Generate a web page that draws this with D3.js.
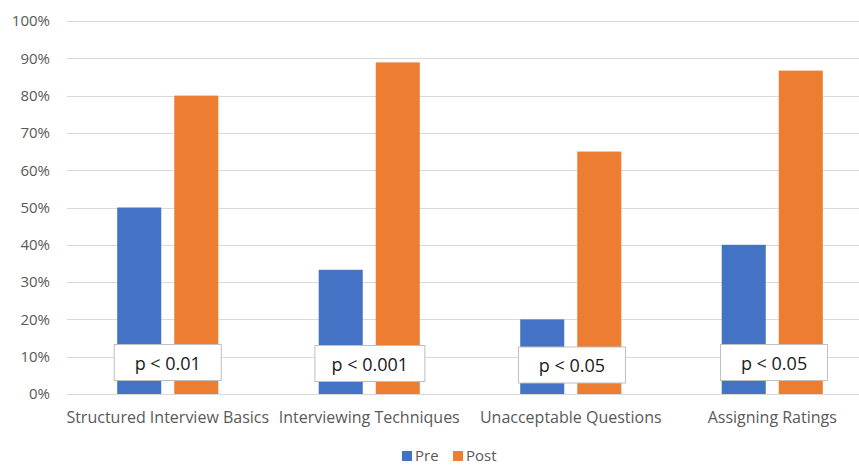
<!DOCTYPE html>
<html>
<head>
<meta charset="utf-8">
<script src="https://cdn.jsdelivr.net/npm/d3@7"></script>
<style>
  html, body { margin: 0; padding: 0; background: #ffffff; }
  svg { display: block; font-family: "Open Sans", "Noto Sans", sans-serif; }
</style>
</head>
<body>
<svg id="chart" width="859" height="465"></svg>
<script>
// Training outcomes: share of correct answers before and after the course
const categories = ["Structured Interview Basics", "Interviewing Techniques", "Unacceptable Questions", "Assigning Ratings"];
const preValues  = [0.50, 0.333, 0.20, 0.40];
const postValues = [0.80, 0.889, 0.65, 0.867];
const pLabels    = ["p < 0.01", "p < 0.001", "p < 0.05", "p < 0.05"];
const seriesNames = ["Pre", "Post"];
const seriesColors = ["#4472C4", "#ED7D31"];
const yTicks = [0, 0.1, 0.2, 0.3, 0.4, 0.5, 0.6, 0.7, 0.8, 0.9, 1.0];

const svg = d3.select("#chart");
const margin = { left: 67, right: -14, top: 21, bottom: 71 };
const width = 859, height = 465;

// The plot area runs a little past the right edge of the view
const x0 = d3.scaleBand()
  .domain(categories)
  .range([margin.left, width - margin.right])
  .paddingInner(0).paddingOuter(0);

const x1 = d3.scaleBand()
  .domain(seriesNames)
  .range([0, x0.bandwidth()])
  .paddingInner(0.228)
  .paddingOuter(0.88);

const y = d3.scaleLinear()
  .domain([0, 1])
  .range([height - margin.bottom, margin.top]);

// Gridlines
svg.append("g")
  .selectAll("line")
  .data(yTicks)
  .join("line")
  .attr("x1", margin.left)
  .attr("x2", width)
  .attr("y1", d => Math.round(y(d)) + 0.5)
  .attr("y2", d => Math.round(y(d)) + 0.5)
  .attr("stroke", "#d9d9d9")
  .attr("stroke-width", 1);

// Y axis labels
const yAxis = d3.axisLeft(y)
  .tickValues(yTicks)
  .tickFormat(d3.format(".0%"))
  .tickSize(0)
  .tickPadding(17);

svg.append("g")
  .attr("transform", `translate(${margin.left},0)`)
  .call(yAxis)
  .call(g => g.select(".domain").remove())
  .call(g => g.selectAll("text")
    .attr("fill", "#595959")
    .style("font-size", "15px")
    .style("font-family", "'Open Sans', sans-serif"));

// Bars
const groups = svg.append("g")
  .selectAll("g")
  .data(categories.map((c, i) => ({ cat: c, vals: [preValues[i], postValues[i]] })))
  .join("g")
  .attr("transform", d => `translate(${x0(d.cat)},0)`);

groups.selectAll("rect")
  .data(d => d.vals.map((v, j) => ({ key: seriesNames[j], v, j })))
  .join("rect")
  .attr("x", d => x1(d.key))
  .attr("width", x1.bandwidth())
  .attr("y", d => y(d.v))
  .attr("height", d => y(0) - y(d.v))
  .attr("fill", d => seriesColors[d.j]);

// X axis category labels
const xAxis = d3.axisBottom(x0).tickSize(0).tickPadding(18);
svg.append("g")
  .attr("transform", `translate(0,${y(0)})`)
  .call(xAxis)
  .call(g => g.select(".domain").remove())
  .call(g => g.selectAll("text")
    .attr("fill", "#595959")
    .style("font-size", "16px")
    .style("font-family", "'Open Sans', sans-serif"));

// Significance callouts
const boxOffsets = [0, 1, 2.5, 0];
const boxWidths = [107, 110, 107, 107];
const callouts = svg.append("g")
  .selectAll("g")
  .data(pLabels.map((p, i) => ({ p, i })))
  .join("g")
  .attr("transform", d => `translate(${x0(categories[d.i]) + x0.bandwidth() / 2 + d.i * 0.6},${344.5 + boxOffsets[d.i]})`);

callouts.append("rect")
  .attr("x", d => -boxWidths[d.i] / 2)
  .attr("y", 0)
  .attr("width", d => boxWidths[d.i])
  .attr("height", 36)
  .attr("fill", "#ffffff")
  .attr("stroke", "#bfbfbf")
  .attr("stroke-width", 1);

callouts.append("text")
  .attr("x", 0)
  .attr("y", 19)
  .attr("dy", "0.36em")
  .attr("text-anchor", "middle")
  .attr("fill", "#1a1a1a")
  .style("font-size", "18px")
  .style("font-family", "'Open Sans', sans-serif")
  .text(d => d.p);

// Legend
const legend = svg.append("g").attr("transform", "translate(402,455)");
const legendX = [0, 51];
seriesNames.forEach((name, i) => {
  const g = legend.append("g").attr("transform", `translate(${legendX[i]},0)`);
  g.append("rect")
    .attr("x", 0).attr("y", -4)
    .attr("width", 10).attr("height", 10)
    .attr("fill", seriesColors[i]);
  g.append("text")
    .attr("x", 13).attr("y", 1)
    .attr("dy", "0.35em")
    .attr("fill", "#595959")
    .style("font-size", "15px")
    .text(name);
});
</script>
</body>
</html>
